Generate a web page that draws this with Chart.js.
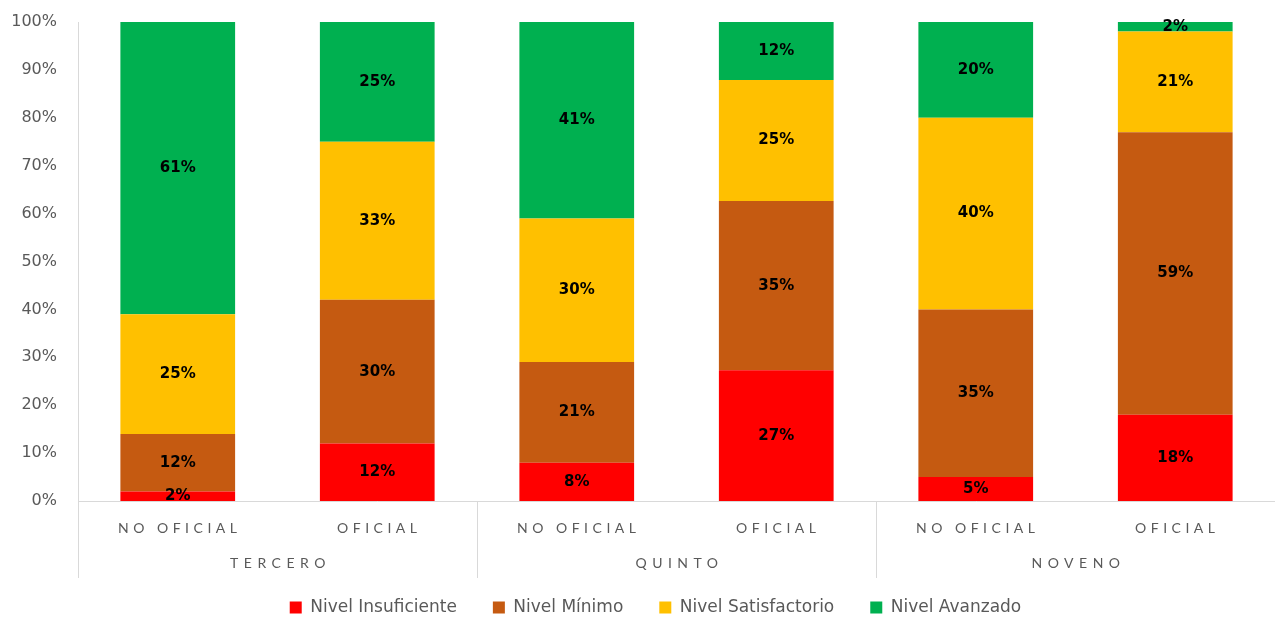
<!DOCTYPE html>
<html>
<head>
<meta charset="utf-8">
<script src="https://cdn.jsdelivr.net/npm/chart.js@4.4.1/dist/chart.umd.min.js"></script>
<style>
  html, body { margin: 0; padding: 0; background: #fff; }
  #wrap { width: 1275px; height: 618px; }
</style>
</head>
<body>
<div id="wrap"><canvas id="chart" width="1275" height="618"></canvas></div>
<script>
// bars: grade / school type
var grupos = ["TERCERO", "QUINTO", "NOVENO"];
var tipos = ["NO OFICIAL", "OFICIAL"];
var yTicks = ["0%", "10%", "20%", "30%", "40%", "50%", "60%", "70%", "80%", "90%", "100%"];

// percentages shown on the bars
var insuficiente  = [2, 12, 8, 27, 5, 18];
var minimo        = [12, 30, 21, 35, 35, 59];
var satisfactorio = [25, 33, 30, 25, 40, 21];
var avanzado      = [61, 25, 41, 12, 20, 2];

var nombres = ["Nivel Insuficiente", "Nivel Mínimo", "Nivel Satisfactorio", "Nivel Avanzado"];
var colores = ["#FF0000", "#C55A11", "#FFC000", "#00B050"];

var FONT = "Lato, 'Open Sans', sans-serif";
var FONT_ANCHA = "'DejaVu Sans', sans-serif";
var GRIS = "#595959";

var categorias = [];
grupos.forEach(function (g) {
    tipos.forEach(function (t) { categorias.push(t); });
});

var series = [insuficiente, minimo, satisfactorio, avanzado];
// 100% stacked: normalise each column
var totales = categorias.map(function (c, i) {
    return series.reduce(function (s, arr) { return s + arr[i]; }, 0);
});

var datasets = series.map(function (arr, k) {
    return {
        label: nombres[k],
        data: arr.map(function (v, i) { return v / totales[i] * 100; }),
        raw: arr,
        backgroundColor: colores[k],
        borderWidth: 0,
        categoryPercentage: 1,
        barPercentage: 0.575
    };
});

var etiquetas = {
    id: 'etiquetas',
    afterLayout: function (chart) {
        // legend sits a bit right of centre in the original
        chart.legend.left += 18;
        chart.legend.right += 18;
    },
    afterDatasetsDraw: function (chart) {
        var ctx = chart.ctx;
        ctx.save();
        ctx.font = "bold 15px " + FONT_ANCHA;
        ctx.fillStyle = "#000";
        ctx.textAlign = "center";
        ctx.textBaseline = "middle";
        chart.data.datasets.forEach(function (ds, k) {
            var meta = chart.getDatasetMeta(k);
            meta.data.forEach(function (bar, i) {
                var y = (bar.y + bar.base) / 2;
                ctx.fillText(ds.raw[i] + "%", bar.x, y);
            });
        });
        ctx.restore();
    },
    afterDraw: function (chart) {
        var ctx = chart.ctx;
        var x = chart.scales.x;
        var area = chart.chartArea;
        var paso = x.getPixelForValue(1) - x.getPixelForValue(0);
        ctx.save();
        // separators
        ctx.strokeStyle = "#D9D9D9";
        ctx.lineWidth = 1;
        for (var g = 0; g <= grupos.length; g++) {
            var px = Math.round(area.left + g * paso * tipos.length) + 0.5;
            ctx.beginPath();
            ctx.moveTo(px, area.bottom);
            ctx.lineTo(px, area.bottom + 77);
            ctx.stroke();
        }
        ctx.fillStyle = GRIS;
        ctx.textAlign = "center";
        ctx.textBaseline = "middle";
        ctx.font = "14px " + FONT;
        ctx.letterSpacing = "4.5px";
        categorias.forEach(function (c, i) {
            ctx.fillText(c, x.getPixelForValue(i) + 2, area.bottom + 27);
        });
        ctx.letterSpacing = "5.5px";
        grupos.forEach(function (g, j) {
            var cx = area.left + (j + 0.5) * paso * tipos.length;
            ctx.fillText(g, cx + 3, area.bottom + 62);
        });
        ctx.restore();
    }
};

new Chart(document.getElementById("chart"), {
    type: 'bar',
    data: { labels: categorias, datasets: datasets },
    options: {
        responsive: false,
        animation: false,
        layout: { padding: { top: 22, right: 0, left: 0, bottom: -8 } },
        plugins: {
            legend: {
                position: 'bottom',
                labels: {
                    boxWidth: 12,
                    boxHeight: 12,
                    padding: 36,
                    color: GRIS,
                    font: { family: FONT_ANCHA, size: 17 }
                }
            },
            tooltip: { enabled: false }
        },
        scales: {
            x: {
                stacked: true,
                grid: { display: false, drawTicks: false },
                border: { color: "#D9D9D9" },
                ticks: { display: false },
                afterFit: function (s) { s.height = 62; }
            },
            y: {
                stacked: true,
                min: 0,
                max: 100,
                grid: { display: false, drawTicks: false },
                border: { color: "#D9D9D9" },
                ticks: {
                    stepSize: 10,
                    padding: 21,
                    color: GRIS,
                    font: { family: FONT_ANCHA, size: 16 },
                    callback: function (v, i) { return yTicks[i]; }
                },
                afterFit: function (s) {
                    s.width = 78;
                    s.paddingTop = 0;
                    s.paddingBottom = 0;
                }
            }
        }
    },
    plugins: [etiquetas]
});
</script>
</body>
</html>
